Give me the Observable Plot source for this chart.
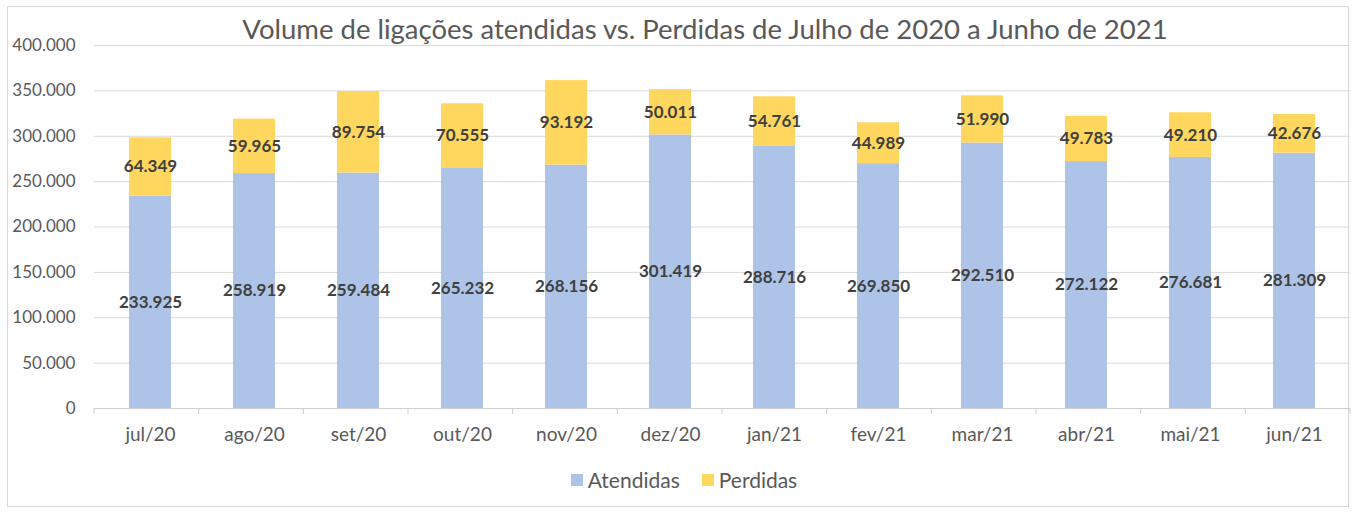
<!DOCTYPE html>
<html>
<head>
<meta charset="utf-8">
<script src="https://cdn.jsdelivr.net/npm/d3@7"></script>
<script src="https://cdn.jsdelivr.net/npm/@observablehq/plot@0.6"></script>
<style>
  html, body { margin: 0; padding: 0; background: #fff; }
  #wrap { position: relative; width: 1356px; height: 513px; overflow: hidden; font-family: Lato, "Open Sans", sans-serif; }
  #frame { position: absolute; left: 7px; top: 6px; width: 1342px; height: 501px; border: 1px solid #d9d9d9; box-sizing: border-box; }
  #title { position: absolute; left: 0; top: 0; width: 1356px; height: 44px; padding-left: 54px; box-sizing: border-box; text-align: center; font-size: 27.5px; line-height: 40px; padding-top: 9px; color: #595959; }
  #chart { position: absolute; left: 0; top: 0; }
  #legend { position: absolute; left: 0; top: 467px; width: 1356px; padding-left: 12px; box-sizing: border-box; display: flex; justify-content: center; gap: 22px; font-size: 21px; color: #595959; }
  .item { display: flex; align-items: center; gap: 5px; }
  .sw { width: 12px; height: 12px; display: inline-block; }
</style>
</head>
<body>
<div id="wrap">
  <div id="frame"></div>
  <div id="chart"></div>
  <div id="title"></div>
  <div id="legend"></div>
</div>
<script>
const titleText = "Volume de ligações atendidas vs. Perdidas de Julho de 2020 a Junho de 2021";
const months = ["jul/20","ago/20","set/20","out/20","nov/20","dez/20","jan/21","fev/21","mar/21","abr/21","mai/21","jun/21"];
const atendidas = [233925,258919,259484,265232,268156,301419,288716,269850,292510,272122,276681,281309];
const perdidas  = [64349,59965,89754,70555,93192,50011,54761,44989,51990,49783,49210,42676];
const series = ["Atendidas","Perdidas"];
const colors = ["#AEC3E8","#FFD75E"];
const yTicks = [0,50000,100000,150000,200000,250000,300000,350000,400000];

const locale = d3.formatLocale({decimal: ",", thousands: ".", grouping: [3], currency: ["R$", ""]});
const fmt = locale.format(",d");

const data = months.flatMap((m, i) => [
  {month: m, serie: series[0], value: atendidas[i]},
  {month: m, serie: series[1], value: perdidas[i]}
]);

document.getElementById("title").textContent = titleText;

const W = 1356, ML = 94, MR = 6;
const edgeTicks = (index, scales, values, dims) => {
  const g = d3.create("svg:g");
  const left = dims.marginLeft, right = dims.width - dims.marginRight;
  const y0 = scales.y(0);
  const n = months.length;
  for (let i = 0; i <= n; i++) {
    const xp = left + i * (right - left) / n;
    g.append("line").attr("x1", xp).attr("x2", xp).attr("y1", y0).attr("y2", y0 + 6)
      .attr("stroke", "#d0d0d0").attr("stroke-width", 1);
  }
  return g.node();
};

const chart = Plot.plot({
  width: W, height: 470,
  marginLeft: ML, marginRight: MR, marginTop: 45, marginBottom: 62,
  style: {fontFamily: "Lato, 'Open Sans', sans-serif", fontSize: "17px", color: "#595959", background: "transparent", overflow: "visible"},
  x: {domain: months, paddingInner: 0.6, paddingOuter: 0.3, label: null},
  y: {domain: [0, 400000], ticks: yTicks, tickFormat: fmt, label: null, tickSize: 0, tickPadding: 19},
  color: {domain: series, range: colors},
  marks: [
    Plot.gridY(yTicks, {stroke: "#d9d9d9", strokeOpacity: 1, strokeWidth: 1}),
    Plot.barY(data, Plot.stackY({x: "month", y: "value", fill: "serie", z: "serie", order: series})),
    Plot.ruleY([0], {stroke: "#d0d0d0", strokeWidth: 1}),
    edgeTicks,
    Plot.axisX({tickSize: 0, tickPadding: 19, fontSize: 19, label: null}),
    Plot.text(data, Plot.stackY({x: "month", y: "value", z: "serie", order: series, text: d => fmt(d.value), fill: "#404040", fontWeight: "bold", fontSize: 17}))
  ]
});
document.getElementById("chart").appendChild(chart);

const legend = document.getElementById("legend");
series.forEach((s, i) => {
  const it = document.createElement("div");
  it.className = "item";
  const sw = document.createElement("span");
  sw.className = "sw";
  sw.style.background = colors[i];
  const t = document.createElement("span");
  t.textContent = s;
  it.appendChild(sw); it.appendChild(t);
  legend.appendChild(it);
});
</script>
</body>
</html>
